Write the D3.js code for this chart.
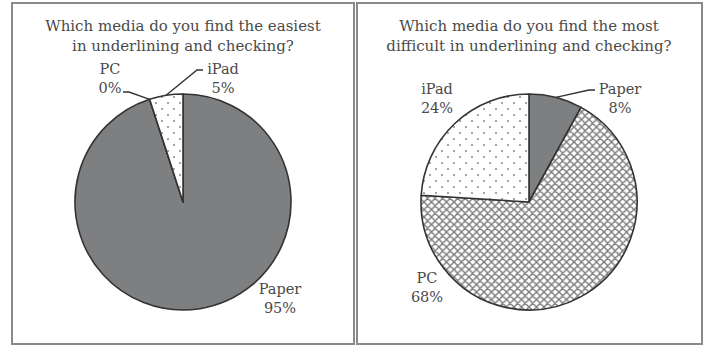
<!DOCTYPE html>
<html>
<head>
<meta charset="utf-8">
<script src="https://cdn.jsdelivr.net/npm/d3@7"></script>
<style>
  body { margin: 0; background: #fff; }
  text { font-family: "DejaVu Serif", "Liberation Serif", serif; fill: #4a4a4a; }
</style>
</head>
<body>
<div id="canvas"></div>
<script>
"use strict"

/* data */
let mediaNames = ["Paper", "PC", "iPad"];
let easiestValues = [95, 0, 5];
let hardestValues = [8, 68, 24];
let easiestTitle = ["Which media do you find the easiest", "in underlining and checking?"];
let hardestTitle = ["Which media do you find the most", "difficult in underlining and checking?"];

/* drawing config */
let svgWidth = 706;
let svgHeight = 350;
let radius = 108;

let svg = d3.select("#canvas")
    .append("svg")
    .attr("width", svgWidth)
    .attr("height", svgHeight);

/* patterns: dots for iPad, cross hatch for PC */
let defs = svg.append("defs");

let dots = defs.append("pattern")
    .attr("id", "dots")
    .attr("patternUnits", "userSpaceOnUse")
    .attr("width", 12)
    .attr("height", 12);
dots.append("rect").attr("width", 12).attr("height", 12).attr("fill", "#fff");
dots.append("circle").attr("cx", 3).attr("cy", 3).attr("r", 1).attr("fill", "#888");
dots.append("circle").attr("cx", 9).attr("cy", 9).attr("r", 1).attr("fill", "#888");

let hatch = defs.append("pattern")
    .attr("id", "hatch")
    .attr("patternUnits", "userSpaceOnUse")
    .attr("width", 7.5)
    .attr("height", 7.5);
hatch.append("rect").attr("width", 7.5).attr("height", 7.5).attr("fill", "#fff");
hatch.append("path")
    .attr("d", "M-1,-1 L8.5,8.5 M-1,8.5 L8.5,-1 M-4.75,2.75 L2.75,-4.75 M4.75,12.25 L12.25,4.75 M-4.75,4.75 L2.75,12.25 M4.75,-4.75 L12.25,2.75")
    .attr("stroke", "#7a7a7a")
    .attr("stroke-width", 1.4);

let fills = { Paper: "#7e7f81", PC: "url(#hatch)", iPad: "url(#dots)" };

/* panel frames */
let panels = [
    { x: 12, y: 3, w: 342, h: 341 },
    { x: 357, y: 3, w: 345, h: 341 }
];
panels.forEach(function (p) {
    svg.append("rect")
        .attr("x", p.x)
        .attr("y", p.y)
        .attr("width", p.w)
        .attr("height", p.h)
        .attr("fill", "none")
        .attr("stroke", "#8a8a8a")
        .attr("stroke-width", 2);
});

let pie = d3.pie().sort(null).value(function (d) { return d.value; });
let arc = d3.arc().innerRadius(0).outerRadius(radius);

/* label offsets relative to pie centre; leader = [start x, start y, elbow x, elbow y] */
function drawPie(cx, cy, values, title, labelPos) {
    let data = mediaNames.map(function (name, i) {
        return { name: name, value: values[i] };
    });
    let g = svg.append("g").attr("transform", "translate(" + cx + "," + cy + ")");

    g.selectAll("path.slice")
        .data(pie(data))
        .join("path")
        .attr("class", "slice")
        .attr("d", arc)
        .attr("fill", function (d) { return fills[d.data.name]; })
        .attr("stroke", "#333")
        .attr("stroke-width", 1.6)
        .attr("stroke-linejoin", "round");

    /* title */
    for (let i = 0; i < title.length; i++) {
        svg.append("text")
            .attr("x", cx)
            .attr("y", 31 + i * 20)
            .attr("text-anchor", "middle")
            .attr("font-size", 15)
            .text(title[i]);
    }

    /* labels with leader lines */
    pie(data).forEach(function (d) {
        let lp = labelPos[d.data.name];
        g.append("text")
            .attr("x", lp.x)
            .attr("y", lp.y)
            .attr("text-anchor", "middle")
            .attr("font-size", 14.5)
            .text(d.data.name);
        g.append("text")
            .attr("x", lp.x)
            .attr("y", lp.y + 19)
            .attr("text-anchor", "middle")
            .attr("font-size", 14.5)
            .text(d.data.value + "%");
        if (lp.leader) {
            let mid = (d.startAngle + d.endAngle) / 2;
            let ex = Math.sin(mid) * radius;
            let ey = -Math.cos(mid) * radius;
            g.append("path")
                .attr("d", "M" + lp.leader[0] + "," + lp.leader[1] + " L" + lp.leader[2] + "," + lp.leader[3] + " L" + ex + "," + ey)
                .attr("fill", "none")
                .attr("stroke", "#333")
                .attr("stroke-width", 1.4);
        }
    });
}

drawPie(183, 202, easiestValues, easiestTitle, {
    Paper: { x: 97, y: 92 },
    PC: { x: -73, y: -128, leader: [-60, -110, -54, -110] },
    iPad: { x: 40, y: -128, leader: [20, -132, 14, -132] }
});

drawPie(529, 202, hardestValues, hardestTitle, {
    Paper: { x: 91, y: -108, leader: [66, -112, 60, -112] },
    PC: { x: -102, y: 81 },
    iPad: { x: -92, y: -108 }
});
</script>
</body>
</html>
